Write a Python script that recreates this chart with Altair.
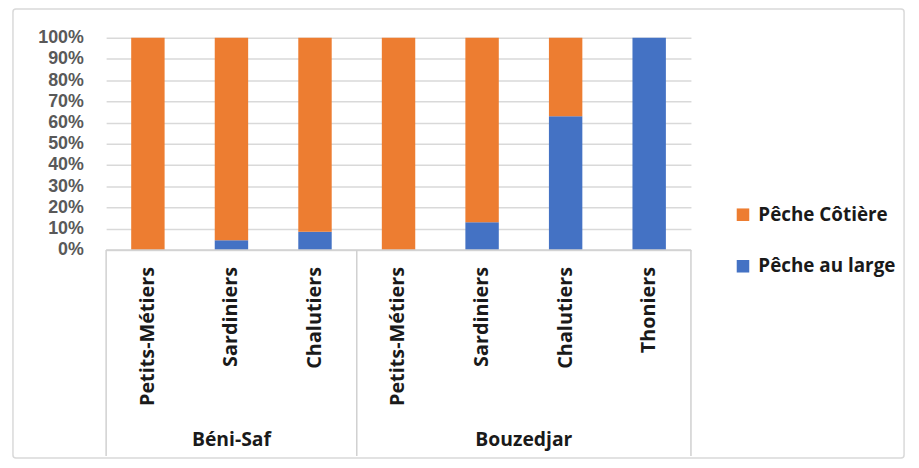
import altair as alt
import pandas as pd

# ---- data ----
ports = ["Béni-Saf", "Béni-Saf", "Béni-Saf", "Bouzedjar", "Bouzedjar", "Bouzedjar", "Bouzedjar"]
categories = ["Petits-Métiers", "Sardiniers", "Chalutiers", "Petits-Métiers", "Sardiniers", "Chalutiers", "Thoniers"]
peche_au_large = [0, 4.5, 8.5, 0, 13, 63, 100]        # %
peche_cotiere = [100, 95.5, 91.5, 100, 87, 37, 0]     # %
series = ["Pêche Côtière", "Pêche au large"]
colors = ["#ED7D31", "#4472C4"]
y_ticks = [0, 0.1, 0.2, 0.3, 0.4, 0.5, 0.6, 0.7, 0.8, 0.9, 1.0]
group_names = ["Béni-Saf", "Bouzedjar"]

# ---- tables ----
rows = []
for i, (p, c, lg, ct) in enumerate(zip(ports, categories, peche_au_large, peche_cotiere)):
    rows.append({"idx": i, "port": p, "cat": c, "serie": "Pêche au large", "y0": 0, "y1": lg / 100})
    rows.append({"idx": i, "port": p, "cat": c, "serie": "Pêche Côtière", "y0": lg / 100, "y1": (lg + ct) / 100})
bars_df = pd.DataFrame(rows)

cat_df = pd.DataFrame({"idx": list(range(len(categories))), "cat": categories, "port": ports})

grp = []
for g in group_names:
    ids = [i for i, p in enumerate(ports) if p == g]
    grp.append({"port": g, "start": min(ids), "end": max(ids) + 1})
grp_df = pd.DataFrame(grp)
sep_df = pd.DataFrame({"b": sorted(set(list(grp_df["start"]) + list(grp_df["end"])))})

n = len(categories)
YMIN = -0.972
FONT = "Open Sans"
xscale = alt.Scale(domain=[0, n], nice=False, zero=False)
yscale = alt.Scale(domain=[YMIN, 1], nice=False, zero=False)
yaxis = alt.Axis(values=y_ticks, format=".0%", title=None, domain=False, ticks=False,
                 grid=True, gridColor="#d9d9d9", gridWidth=1.5,
                 labelFont="Liberation Sans", labelFontWeight="bold", labelFontSize=18,
                 labelColor="#595959", labelPadding=23)

bars = alt.Chart(bars_df).transform_calculate(
    xa="datum.idx + 0.3", xb="datum.idx + 0.7"
).mark_bar().encode(
    x=alt.X("xa:Q", scale=xscale, axis=None),
    x2="xb:Q",
    y=alt.Y("y0:Q", scale=yscale, axis=yaxis),
    y2="y1:Q",
    color=alt.Color("serie:N", scale=alt.Scale(domain=series, range=colors),
                    legend=alt.Legend(title=None, orient="none", legendX=633, legendY=169,
                                      symbolType="square", symbolSize=160, symbolStrokeWidth=0,
                                      labelFont=FONT, labelFontWeight="bold", labelFontSize=19,
                                      labelColor="#1a1a1a", labelOffset=6, rowPadding=32)),
)

axis_line = alt.Chart(pd.DataFrame({"a": [0], "b": [n]})).mark_rule(color="#d0d0d0", strokeWidth=1.5).encode(
    x=alt.X("a:Q", scale=xscale, axis=None), x2="b:Q",
    y=alt.Y(datum=0, scale=yscale, axis=yaxis),
)

seps = alt.Chart(sep_df).mark_rule(color="#d0d0d0", strokeWidth=1.5).encode(
    x=alt.X("b:Q", scale=xscale, axis=None),
    y=alt.Y(datum=0, scale=yscale, axis=yaxis),
    y2=alt.Y2(datum=YMIN),
)

cat_labels = alt.Chart(cat_df).transform_calculate(xc="datum.idx + 0.5").mark_text(
    angle=270, align="right", baseline="middle", font=FONT, fontWeight="bold", fontSize=20, color="#1a1a1a"
).encode(
    x=alt.X("xc:Q", scale=xscale, axis=None),
    y=alt.Y(datum=-0.08, scale=yscale, axis=yaxis),
    text="cat:N",
)

grp_labels = alt.Chart(grp_df).transform_calculate(xc="(datum.start + datum.end) / 2").mark_text(
    align="center", baseline="middle", font=FONT, fontWeight="bold", fontSize=19.5, color="#1a1a1a"
).encode(
    x=alt.X("xc:Q", scale=xscale, axis=None),
    y=alt.Y(datum=-0.897, scale=yscale, axis=yaxis),
    text="port:N",
)

frame = alt.Chart(pd.DataFrame({"k": [0]})).mark_rect(
    fill="transparent", stroke="#d9d9d9", strokeWidth=1.5, cornerRadius=3
).encode(
    x=alt.value(-94), x2=alt.value(805), y=alt.value(-29), y2=alt.value(424),
)

chart = alt.layer(frame, bars, axis_line, seps, cat_labels, grp_labels).properties(
    width=590, height=422,
    padding={"left": 99, "top": 28, "right": 222, "bottom": 10},
    autosize=alt.AutoSizeParams(type="none"),
    background="white",
).configure_view(strokeWidth=0)

chart.save("out.html", embed_options={"renderer": "svg", "actions": False})
